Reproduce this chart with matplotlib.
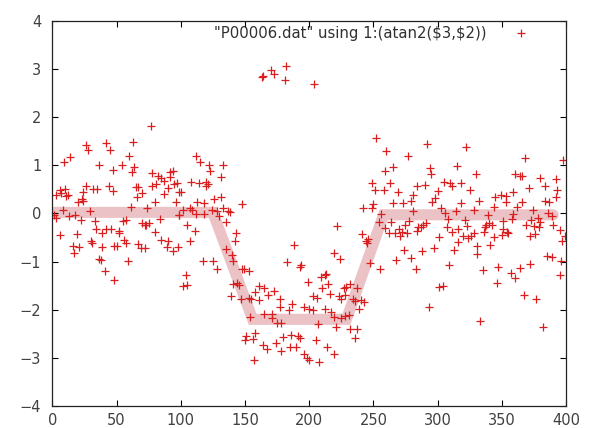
import numpy as np
import matplotlib.pyplot as plt

# (index, atan2 value), grouped by stretch of the x axis
pts_0_50 = [(26, 1.42), (28, 1.31), (42, 1.47), (45, 1.32), (9, 1.07), (14, 1.16), (36, 1.00), (47, 0.89),
            (6, 0.49), (10, 0.50), (3, 0.39), (7, 0.42), (11, 0.37), (12, 0.39), (26, 0.56), (24, 0.45),
            (32, 0.50), (35, 0.50), (44, 0.56), (47, 0.47), (23, 0.30), (20, 0.23), (24, 0.26), (8, 0.08),
            (1, -0.04), (3, -0.10), (13, -0.06), (18, -0.04), (22, -0.13), (29, 0.04), (33, -0.15),
            (6, -0.45), (19, -0.42), (34, -0.32), (39, -0.41), (42, -0.32), (46, -0.32), (16, -0.68),
            (21, -0.70), (17, -0.82), (30, -0.58), (31, -0.61), (39, -0.70), (48, -0.68), (36, -0.94),
            (38, -0.96), (41, -1.20), (48, -1.39)]

pts_50_100 = [(77, 1.82), (63, 1.49), (60, 1.19), (54, 1.00), (64, 0.96), (62, 0.86), (78, 0.83), (82, 0.78),
              (85, 0.74), (87, 0.68), (92, 0.85), (94, 0.88), (92, 0.76), (97, 0.64), (81, 0.61), (78, 0.57),
              (90, 0.52), (95, 0.61), (99, 0.45), (65, 0.54), (67, 0.54), (70, 0.43), (66, 0.33), (87, 0.40),
              (80, 0.23), (96, 0.23), (61, 0.14), (74, 0.12), (99, -0.04), (84, -0.12), (55, -0.15),
              (57, -0.13), (70, -0.19), (73, -0.24), (75, -0.20), (72, -0.25), (80, -0.38), (52, -0.36),
              (52, -0.41), (56, -0.55), (57, -0.61), (85, -0.55), (90, -0.58), (67, -0.64), (69, -0.72),
              (72, -0.72), (89, -0.70), (94, -0.79), (98, -0.70), (50, -0.68), (59, -0.99)]

pts_100_150 = [(112, 1.19), (115, 1.07), (122, 1.00), (133, 1.00), (123, 0.88), (131, 0.76), (108, 0.66),
               (114, 0.63), (120, 0.65), (121, 0.61), (120, 0.56), (100, 0.45), (113, 0.23), (118, 0.21),
               (126, 0.30), (131, 0.35), (148, 0.19), (102, 0.08), (107, 0.12), (109, 0.08), (99, -0.03),
               (112, -0.01), (118, -0.01), (124, 0.08), (128, 0.04), (130, -0.06), (133, 0.12), (137, 0.04),
               (138, 0.02), (135, -0.17), (105, -0.24), (111, -0.37), (143, -0.41), (142, -0.58),
               (107, -0.58), (135, -0.74), (140, -0.87), (141, -0.98), (117, -0.98), (125, -0.98),
               (128, -1.15), (148, -1.15), (104, -1.29), (102, -1.51), (105, -1.48), (141, -1.46),
               (144, -1.44), (145, -1.49), (139, -1.71), (147, -1.78)]

pts_150_200 = [(163, 2.83), (164, 2.86), (170, 2.97), (173, 2.90), (182, 3.05), (181, 2.76), (188, -0.65),
               (183, -1.01), (193, -1.12), (194, -1.08), (149, -1.16), (153, -1.20), (199, -1.43),
               (161, -1.51), (165, -1.56), (158, -1.63), (173, -1.62), (168, -1.69), (153, -1.76),
               (155, -1.77), (161, -1.80), (177, -1.78), (187, -1.89), (177, -1.94), (184, -2.01),
               (196, -1.94), (200, -1.99), (165, -2.08), (171, -2.10), (171, -2.18), (154, -2.16),
               (175, -2.27), (178, -2.27), (180, -2.56), (186, -2.53), (191, -2.55), (193, -2.58),
               (151, -2.54), (150, -2.63), (156, -2.61), (158, -2.49), (164, -2.73), (167, -2.82),
               (174, -2.70), (185, -2.77), (190, -2.78), (178, -2.86), (196, -2.93), (198, -3.00),
               (200, -3.04), (157, -3.04)]

pts_200_250 = [(204, 2.69), (249, 0.62), (251, 0.49), (242, 0.12), (249, 0.12), (250, 0.19), (222, -0.27),
               (241, -0.43), (244, -0.58), (245, -0.61), (246, -0.53), (219, -0.82), (224, -0.94),
               (247, -1.03), (209, -1.32), (212, -1.29), (213, -1.25), (215, -1.46), (210, -1.55),
               (203, -1.71), (206, -1.75), (216, -1.67), (227, -1.55), (229, -1.53), (232, -1.46),
               (237, -1.55), (223, -1.72), (225, -1.78), (228, -1.69), (234, -1.77), (236, -1.82),
               (240, -1.80), (243, -1.85), (239, -1.99), (203, -2.01), (212, -1.99), (217, -2.05),
               (219, -2.15), (225, -2.18), (228, -2.13), (231, -2.11), (207, -2.29), (221, -2.36),
               (232, -2.41), (237, -2.41), (236, -2.58), (205, -2.63), (214, -2.77), (219, -2.91),
               (208, -3.08)]

pts_250_300 = [(252, 1.56), (260, 1.30), (277, 1.19), (292, 1.45), (265, 0.96), (259, 0.87), (294, 0.94),
               (295, 0.81), (258, 0.49), (263, 0.62), (269, 0.45), (284, 0.56), (290, 0.59), (281, 0.39),
               (300, 0.47), (298, 0.31), (296, 0.24), (279, 0.26), (265, 0.21), (273, 0.21), (256, -0.01),
               (254, -0.17), (281, 0.04), (264, -0.17), (278, -0.15), (275, -0.24), (259, -0.30),
               (270, -0.32), (272, -0.38), (262, -0.41), (267, -0.41), (271, -0.48), (276, -0.41),
               (285, -0.29), (287, -0.29), (289, -0.25), (291, -0.20), (284, -0.36), (301, -0.50),
               (274, -0.77), (288, -0.79), (297, -0.72), (279, -0.92), (268, -0.96), (255, -1.15),
               (283, -1.15), (301, -1.53), (293, -1.95)]

pts_300_350 = [(322, 1.38), (315, 0.99), (330, 0.81), (305, 0.66), (310, 0.63), (311, 0.56), (318, 0.64),
               (325, 0.49), (345, 0.35), (349, 0.38), (318, 0.21), (332, 0.25), (344, 0.14), (303, 0.12),
               (306, 0.01), (314, 0.04), (328, 0.06), (339, -0.03), (308, -0.12), (321, -0.13),
               (351, -0.15), (340, -0.19), (342, -0.25), (307, -0.29), (323, -0.27), (316, -0.32),
               (337, -0.29), (338, -0.25), (311, -0.38), (328, -0.41), (336, -0.38), (350, -0.45),
               (351, -0.32), (320, -0.48), (324, -0.52), (326, -0.48), (344, -0.50), (316, -0.60),
               (331, -0.68), (341, -0.65), (313, -0.77), (331, -0.84), (309, -1.08), (347, -1.12),
               (335, -1.18), (346, -1.44), (304, -1.51), (333, -2.24)]

pts_350_400 = [(368, 1.14), (398, 1.10), (360, 0.81), (364, 0.78), (366, 0.78), (380, 0.74), (392, 0.72),
               (371, 0.53), (384, 0.56), (393, 0.49), (359, 0.45), (353, 0.37), (353, 0.23), (366, 0.24),
               (384, 0.26), (387, 0.23), (392, 0.33), (362, 0.14), (374, 0.06), (359, -0.01), (386, 0.01),
               (389, -0.06), (358, -0.12), (373, -0.13), (378, -0.10), (380, -0.17), (369, -0.25),
               (375, -0.27), (379, -0.29), (390, -0.25), (395, -0.34), (354, -0.39), (355, -0.41),
               (372, -0.46), (376, -0.43), (399, -0.46), (397, -0.58), (385, -0.89), (389, -0.91),
               (396, -0.98), (372, -1.05), (364, -1.14), (357, -1.23), (360, -1.34), (395, -1.27),
               (367, -1.70), (377, -1.77), (382, -2.36)]

# piecewise trend drawn behind the points
trend_x = [0, 125, 156, 229, 258, 390]
trend_y = [0.02, 0.02, -2.2, -2.2, -0.03, -0.03]

label = r'"P00006.dat" using 1:(atan2(\$3,\$2))'

pts = np.array(pts_0_50 + pts_50_100 + pts_100_150 + pts_150_200
               + pts_200_250 + pts_250_300 + pts_300_350 + pts_350_400)

fig = plt.figure(figsize=(5.93, 4.28), dpi=100)
ax = fig.add_axes([0.0882, 0.0514, 0.8663, 0.9002])

ax.plot(trend_x, trend_y, color='#ebc3c6', lw=8, solid_capstyle='round',
        solid_joinstyle='miter', zorder=1)
ax.plot(pts[:, 0], pts[:, 1], '+', ls='none', color='#d81e1e', ms=5.5, mew=0.9,
        label=label, zorder=2)

ax.set_xlim(0, 400)
ax.set_ylim(-4, 4)
ax.set_xticks(range(0, 401, 50))
ax.set_yticks(range(-4, 5))
ax.tick_params(direction='in', top=True, right=True, length=4, width=0.8,
               labelsize=10.5, labelcolor='#404040')
ax.tick_params(axis='y', pad=8)
ax.tick_params(axis='x', pad=5)
for s in ax.spines.values():
    s.set_linewidth(0.9)
    s.set_color('#222222')

ax.legend(loc='upper right', bbox_to_anchor=(0.926, 0.986), frameon=False,
          markerfirst=False, handlelength=1.0, handletextpad=1.8, borderpad=0,
          borderaxespad=0, fontsize=10.7, labelcolor='#303030')

fig.savefig('out.png', dpi=100)
